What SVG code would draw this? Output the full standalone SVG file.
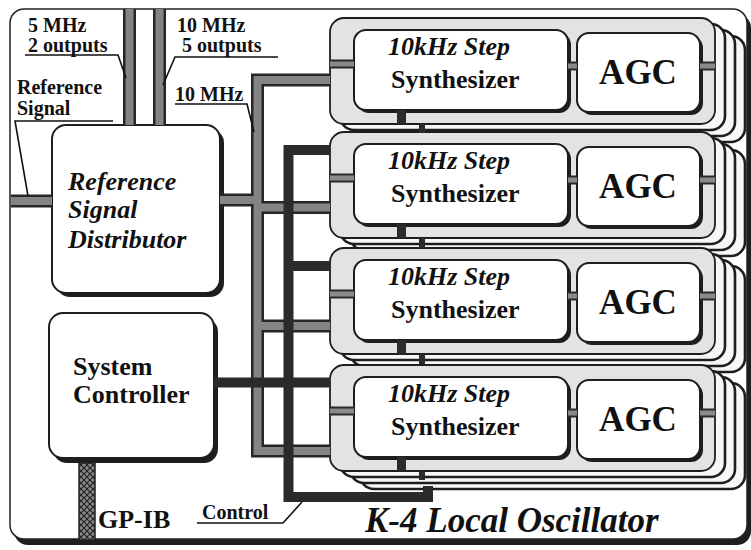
<svg xmlns="http://www.w3.org/2000/svg" xmlns:xlink="http://www.w3.org/1999/xlink" width="751" height="550" viewBox="0 0 751 550" font-family="'Liberation Serif', 'DejaVu Serif', serif">
<style>
.frame{fill:#fff;stroke:#222;stroke-width:1.5}
.sh{fill:#1e1e1e}
.box{fill:#fff;stroke:#1e1e1e;stroke-width:2}
.panel{fill:#e3e3e3;stroke:#1e1e1e;stroke-width:1.8}
.copy{fill:#f7f7f7;stroke:#1e1e1e;stroke-width:2.6}
.go{fill:none;stroke:#262626;stroke-width:13}
.gf{fill:none;stroke:#848484;stroke-width:8}
.so{fill:none;stroke:#2a2a2a;stroke-width:9}
.sf{fill:none;stroke:#8a8a8a;stroke-width:5}
.dk{fill:none;stroke:#2b2b2b;stroke-width:10}
.lead{fill:none;stroke:#111;stroke-width:1.6}
.t{font-family:'Liberation Serif','Times New Roman','DejaVu Serif',serif;fill:#111;font-weight:bold}
.it{font-style:italic}
.lbl{font-size:20px}
.big{font-size:26px}
.agc{font-size:35px;text-anchor:middle}
</style>
<defs>
<pattern id="xh" width="6" height="6" patternUnits="userSpaceOnUse">
<rect width="6" height="6" fill="#8a8a8a"/>
<path d="M0,0 L6,6 M6,0 L0,6" stroke="#222" stroke-width="1.2"/>
</pattern>
<g id="stack">
<rect class="copy" x="360" y="6" width="385" height="106" rx="14"/>
<rect class="copy" x="350" y="0" width="385" height="106" rx="14"/>
<rect class="copy" x="340" y="-6" width="385" height="106" rx="14"/>
<rect class="panel" x="330" y="-12" width="385" height="106" rx="14"/>
</g>
<g id="synbox">
<rect class="sh" x="357" y="3" width="214" height="80" rx="12"/>
<rect class="box" x="354" y="0" width="214" height="80" rx="12"/>
</g>
<g id="agcbox">
<rect class="sh" x="580" y="6" width="123" height="79" rx="12"/>
<rect class="box" x="577" y="3" width="123" height="79" rx="12"/>
</g>
<path id="g1" d="M129.5,9 V125"/>
<path id="g2" d="M159.5,9 V125"/>
<path id="g3" d="M11,201 H52"/>
<path id="g4" d="M220,200 H257.5"/>
<path id="g5" d="M330,80 H257.5 V451 H330"/>
<path id="g6" d="M257.5,207.5 H330"/>
<path id="g7" d="M257.5,326 H330"/>
<path id="stubs" d="M330,34 H354 M568,36 H577 M700,36 H715"/>
</defs>

<g id="frame">
<rect class="sh" x="14" y="14" width="737" height="531" rx="14"/>
<rect class="frame" x="10" y="9" width="737" height="530" rx="14"/>
</g>

<g id="row1" transform="translate(0,30)">
<use xlink:href="#stack"/>
<g id="synth1"><use xlink:href="#synbox"/><text class="t it big" x="388" y="25">10kHz Step</text><text class="t big" x="391" y="58">Synthesizer</text></g>
<g id="agc1"><use xlink:href="#agcbox"/><text class="t agc" x="638" y="54">AGC</text></g>
</g>
<g id="row2" transform="translate(0,144)">
<use xlink:href="#stack"/>
<g id="synth2"><use xlink:href="#synbox"/><text class="t it big" x="388" y="25">10kHz Step</text><text class="t big" x="391" y="58">Synthesizer</text></g>
<g id="agc2"><use xlink:href="#agcbox"/><text class="t agc" x="638" y="54">AGC</text></g>
</g>
<g id="row3" transform="translate(0,260)">
<use xlink:href="#stack"/>
<g id="synth3"><use xlink:href="#synbox"/><text class="t it big" x="388" y="25">10kHz Step</text><text class="t big" x="391" y="58">Synthesizer</text></g>
<g id="agc3"><use xlink:href="#agcbox"/><text class="t agc" x="638" y="54">AGC</text></g>
</g>
<g id="row4" transform="translate(0,377)">
<use xlink:href="#stack"/>
<g id="synth4"><use xlink:href="#synbox"/><text class="t it big" x="388" y="25">10kHz Step</text><text class="t big" x="391" y="58">Synthesizer</text></g>
<g id="agc4"><use xlink:href="#agcbox"/><text class="t agc" x="638" y="54">AGC</text></g>
</g>

<g id="rsd">
<rect class="sh" x="56" y="129" width="168" height="168" rx="14"/>
<rect class="box" x="52" y="125" width="168" height="168" rx="14"/>
<text class="t it big" x="68" y="190">Reference</text>
<text class="t it big" x="68" y="218">Signal</text>
<text class="t it big" x="68" y="248">Distributor</text>
</g>

<g id="controller">
<rect class="sh" x="53" y="318" width="165" height="145" rx="14"/>
<rect class="box" x="49" y="313" width="165" height="145" rx="14"/>
<text class="t big" x="73" y="375">System</text>
<text class="t big" x="73" y="403">Controller</text>
</g>

<g id="connectors">
<g class="go">
<use xlink:href="#g1"/><use xlink:href="#g2"/><use xlink:href="#g3"/><use xlink:href="#g4"/><use xlink:href="#g5"/><use xlink:href="#g6"/><use xlink:href="#g7"/>
</g>
<g class="gf">
<use xlink:href="#g1"/><use xlink:href="#g2"/><use xlink:href="#g3"/><use xlink:href="#g4"/><use xlink:href="#g5"/><use xlink:href="#g6"/><use xlink:href="#g7"/>
</g>
<path class="dk" d="M330,150 H288.5 V497 H428 V486"/>
<path class="dk" d="M288.5,266 H330"/>
<path class="dk" d="M214,382.5 H330"/>
<g class="so">
<use xlink:href="#stubs" y="30"/><use xlink:href="#stubs" y="144"/><use xlink:href="#stubs" y="260"/><use xlink:href="#stubs" y="377"/>
</g>
<g class="sf">
<use xlink:href="#stubs" y="30"/><use xlink:href="#stubs" y="144"/><use xlink:href="#stubs" y="260"/><use xlink:href="#stubs" y="377"/>
</g>
<path class="dk" style="stroke-width:9" d="M401.5,110 V124 M401.5,224 V238 M401.5,340 V354 M401.5,457 V471"/>
<path class="dk" style="stroke-width:6" d="M422,124 V133 M422,238 V248 M422,354 V364 M422,471 V480"/>
<rect id="gpib" x="79" y="463" width="16" height="77" fill="url(#xh)" stroke="#222" stroke-width="1.5"/>
<polyline class="lead" points="25,55 118,55 126,78"/>
<polyline class="lead" points="278,57 175,57 163,85"/>
<polyline class="lead" points="113,121 15,121 28,196"/>
<polyline class="lead" points="175,104 247,104 254,132"/>
<polyline class="lead" points="197,523 283,523 302,502"/>
</g>

<g id="labels">
<text class="t lbl" x="28" y="32">5 MHz</text>
<text class="t lbl" x="28" y="52">2 outputs</text>
<text class="t lbl" x="177" y="32">10 MHz</text>
<text class="t lbl" x="182" y="52">5 outputs</text>
<text class="t lbl" x="17" y="94">Reference</text>
<text class="t lbl" x="17" y="115">Signal</text>
<text class="t lbl" x="175" y="101">10 MHz</text>
<text class="t big" x="98" y="528">GP-IB</text>
<text class="t lbl" x="202" y="519">Control</text>
<text class="t it" style="font-size:35px" x="365" y="532">K-4 Local Oscillator</text>
</g>
</svg>
